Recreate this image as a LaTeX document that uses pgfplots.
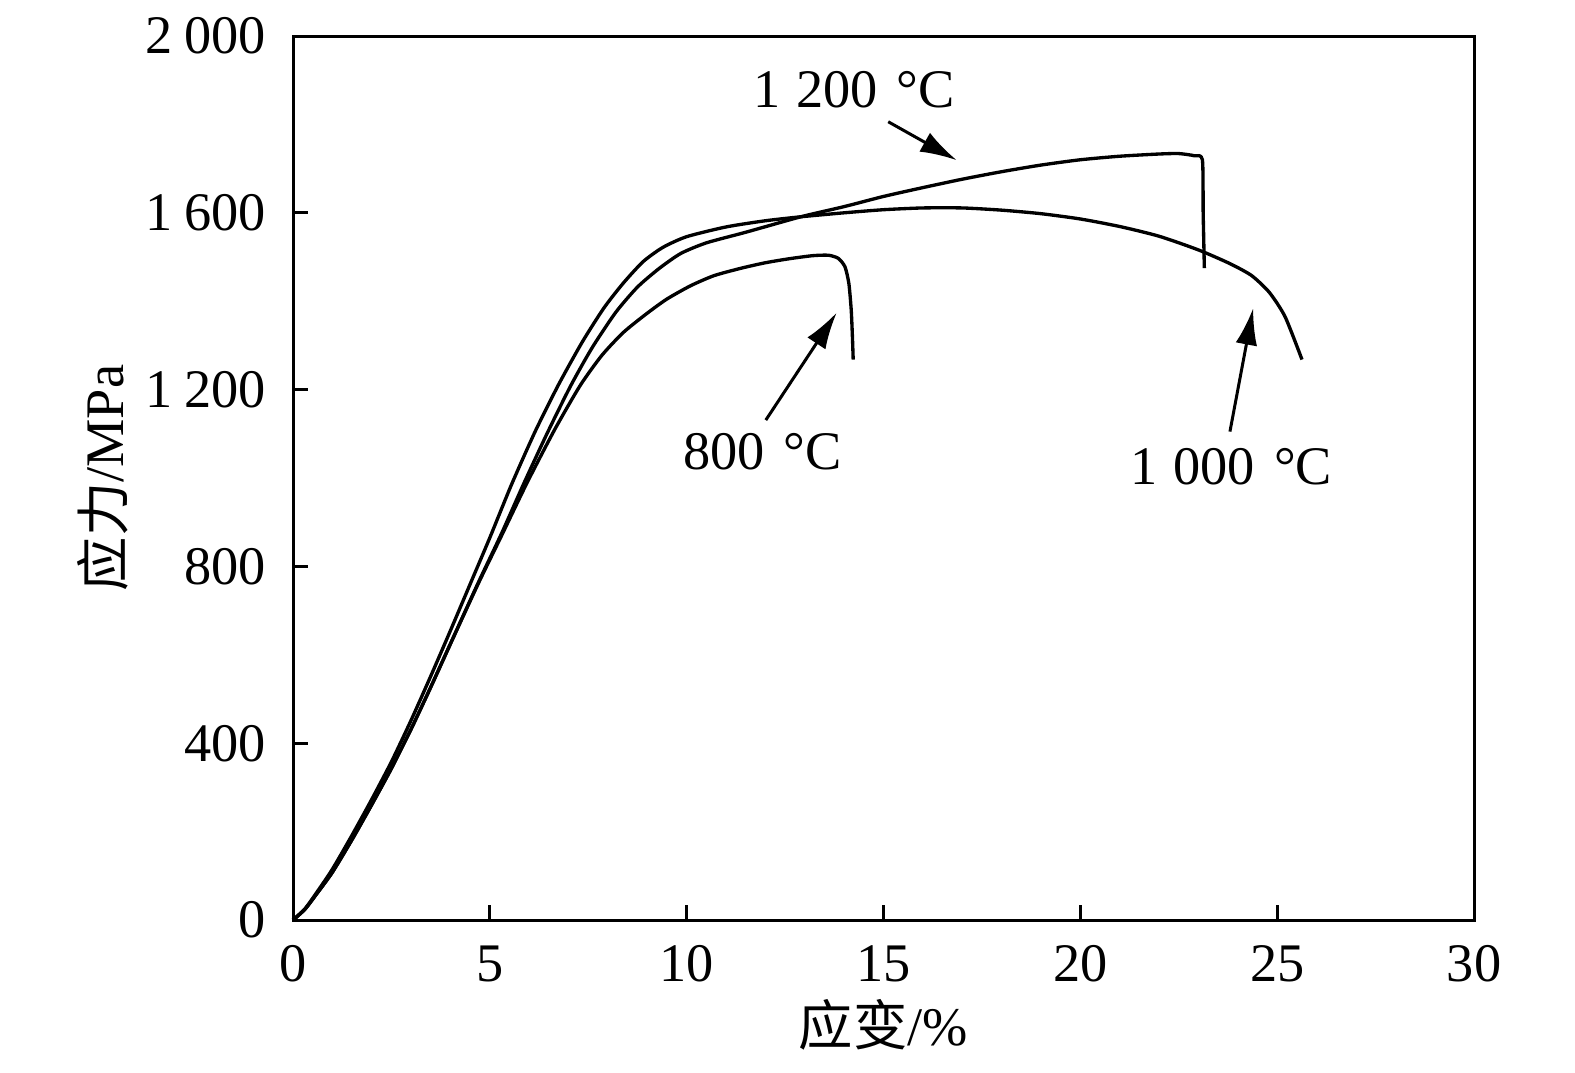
\documentclass[border=0pt]{standalone}
\usepackage{fontspec}
\setmainfont{Liberation Serif}
\newfontfamily\cjk{Noto Sans CJK SC}
\usepackage{pgfplots}
\pgfplotsset{compat=1.18}
\usetikzlibrary{arrows.meta}
\newcommand{\fs}{\fontsize{16.3}{19}\selectfont}
\begin{document}
\fs
\begin{tikzpicture}
\begin{axis}[
  name=ax,
  at={(0,0)}, anchor=south west,
  scale only axis,
  width=354.3pt, height=265.2pt,
  xmin=0, xmax=30, ymin=0, ymax=2000,
  xtick={0,5,10,15,20,25,30},
  ytick={0,400,800,1200,1600,2000},
  yticklabels={0,400,800,1\hspace{0.22em}200,1\hspace{0.22em}600,2\hspace{0.22em}000},
  xticklabels={0,5,10,15,20,25,30},
  tick align=inside,
  xtick pos=bottom, ytick pos=left,
  major tick length=4.5pt,
  axis line style={line width=0.9pt},
  every tick/.style={line width=0.9pt, black},
  tick label style={font=\fs},
  /pgf/number format/assume math mode=true,
  xticklabel style={yshift=-2pt},
  yticklabel style={xshift=-2.5pt},
  xlabel={{\cjk 应变}/\%},
  ylabel={{\cjk 应力}/MPa},
  label style={font=\fs},
  xlabel style={at={([yshift=-31.5pt]axis description cs:0.5,0)}, anchor=center},
  ylabel style={at={([xshift=-57pt]axis description cs:0,0.5)}, anchor=center},
  clip=false,
]
% 1000 C
\addplot[black, line width=1pt, line join=round, smooth, tension=0.4] coordinates {
(0,0) (0.3,25) (0.6,62) (1,115) (1.5,192) (2,273) (2.5,358) (3,452) (3.5,552)
(4,655) (4.5,760) (5,865) (5.55,985) (6.15,1105) (6.75,1212) (7.35,1308)
(7.9,1385) (8.4,1442) (8.9,1490) (9.4,1522) (10,1546) (11,1568) (12,1582)
(12.9,1591) (14,1600) (15,1607) (16,1611) (17,1611) (18,1606) (19,1598)
(20,1586) (21,1569) (22,1547) (23,1516) (23.8,1485) (24.35,1458) (24.8,1420)
(25.2,1365) (25.63,1268)
};
% 1200 C
\addplot[black, line width=1pt, line join=round, smooth, tension=0.4] coordinates {
(0,0) (0.3,24) (0.6,59) (1,108) (1.5,182) (2,261) (2.5,343) (3,432) (3.5,527)
(4,625) (4.7,762) (5.3,875) (5.85,985) (6.45,1100) (7.05,1208) (7.6,1295)
(8.2,1375) (8.75,1432) (9.3,1474) (9.85,1508) (10.5,1532) (11.5,1556)
(12.9,1591) (14,1614) (15,1637) (16,1657) (17,1676) (18,1693) (19,1708)
(20,1720) (21,1728) (22,1733) (22.5,1734) (22.9,1729) (23.1,1720)
(23.12,1600) (23.15,1475)
};
% 800 C
\addplot[black, line width=1pt, line join=round, smooth, tension=0.4] coordinates {
(0,0) (0.3,24) (0.6,59) (1,108) (1.5,182) (2,261) (2.5,343) (3,432) (3.5,527)
(4,625) (4.7,760) (5.3,870) (5.95,990) (6.65,1110) (7.3,1210) (7.85,1278)
(8.4,1330) (9,1373) (9.5,1405) (10.1,1435) (10.7,1458) (11.4,1475) (12,1487)
(12.6,1496) (13.2,1503) (13.6,1504) (13.85,1497) (14.02,1478) (14.12,1440)
(14.18,1380) (14.21,1320) (14.23,1268)
};
\draw[line width=0.9pt, -{Latex[length=11pt,width=6.5pt]}] (axis cs:15.12,1806) -- (axis cs:16.86,1719);
\draw[line width=0.9pt, -{Latex[length=11pt,width=6.5pt]}] (axis cs:12.01,1131) -- (axis cs:13.81,1374);
\draw[line width=0.9pt, -{Latex[length=11pt,width=6.5pt]}] (axis cs:23.8,1105) -- (axis cs:24.39,1384);
\node at (axis cs:14.25,1878) {1\hspace{0.3em}200\hspace{0.35em}°C};
\node at (axis cs:11.93,1060) {800\hspace{0.35em}°C};
\node at (axis cs:23.83,1026) {1\hspace{0.3em}000\hspace{0.35em}°C};
\end{axis}
\pgfresetboundingbox
\path[use as bounding box] ([xshift=-87.9pt,yshift=-45.6pt]ax.south west) rectangle ([xshift=384.6pt,yshift=276pt]ax.south west);
\end{tikzpicture}
\end{document}
